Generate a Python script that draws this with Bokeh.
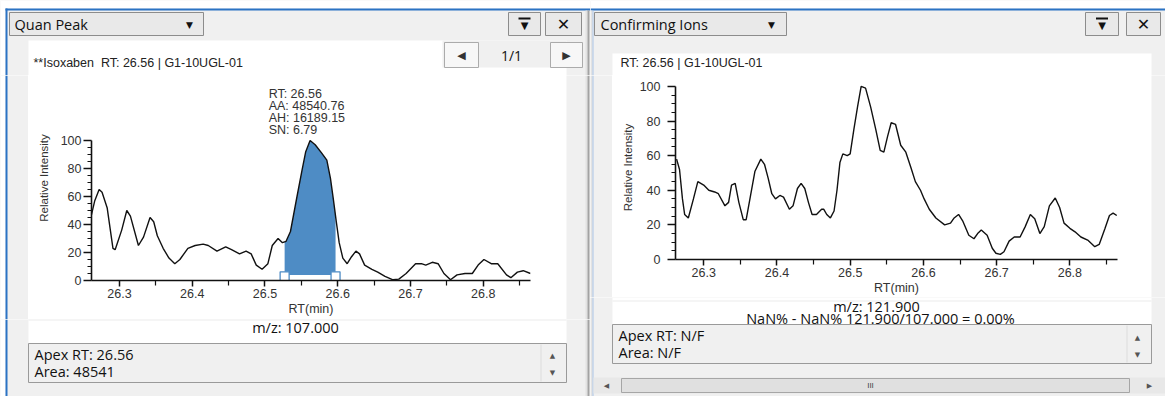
import numpy as np
from bokeh.plotting import figure
from bokeh.layouts import row, column
from bokeh.models import Range1d, FixedTicker, Label
from bokeh.core.properties import value
from bokeh.embed import file_html
from bokeh.resources import INLINE

# ---------------- data ----------------
quan_rt = [26.261, 26.266, 26.272, 26.276, 26.283, 26.291, 26.294, 26.303, 26.310, 26.315,
           26.326, 26.333, 26.342, 26.347, 26.352, 26.360, 26.368, 26.376, 26.383, 26.394,
           26.404, 26.415, 26.422, 26.434, 26.446, 26.454, 26.465, 26.474, 26.481, 26.488,
           26.496, 26.504, 26.510, 26.518, 26.524, 26.529, 26.535, 26.544, 26.551, 26.556,
           26.562, 26.569, 26.578, 26.585, 26.590, 26.594, 26.598, 26.602, 26.607, 26.613,
           26.619, 26.625, 26.630, 26.637, 26.647, 26.655, 26.665, 26.676, 26.684, 26.694,
           26.707, 26.715, 26.721, 26.730, 26.738, 26.746, 26.755, 26.764, 26.775, 26.785,
           26.793, 26.801, 26.811, 26.820, 26.832, 26.838, 26.847, 26.855, 26.865]
quan_int = [46, 57, 65, 63, 52, 23, 22, 36, 50, 46,
            25, 31, 45, 42, 32, 23, 16, 12, 15, 23,
            25, 26, 25, 21, 24, 22, 19, 21, 19, 11,
            8, 12, 25, 30, 27, 28, 35, 60, 79, 92,
            100, 97, 91, 86, 73, 58, 42, 27, 16, 12,
            17, 21, 19, 11, 8, 6, 3, 0.5, 1, 5,
            12, 12, 11, 13, 12, 5, 0.5, 4, 5, 5,
            11, 15, 12, 12, 4, 2, 6, 7, 5]

conf_rt = [26.263, 26.267, 26.271, 26.274, 26.279, 26.286, 26.292, 26.300, 26.307, 26.315,
           26.320, 26.329, 26.334, 26.338, 26.343, 26.348, 26.354, 26.358, 26.364, 26.370,
           26.378, 26.383, 26.388, 26.393, 26.398, 26.404, 26.409, 26.417, 26.422, 26.428,
           26.433, 26.438, 26.443, 26.448, 26.454, 26.461, 26.464, 26.468, 26.473, 26.478,
           26.482, 26.486, 26.490, 26.496, 26.500, 26.505, 26.510, 26.515, 26.521, 26.528,
           26.535, 26.541, 26.546, 26.551, 26.556, 26.562, 26.569, 26.576, 26.583, 26.589,
           26.596, 26.601, 26.608, 26.617, 26.629, 26.637, 26.642, 26.648, 26.654, 26.662,
           26.669, 26.674, 26.679, 26.687, 26.694, 26.699, 26.705, 26.710, 26.717, 26.724,
           26.732, 26.739, 26.746, 26.752, 26.759, 26.765, 26.772, 26.780, 26.786, 26.792,
           26.800, 26.807, 26.815, 26.825, 26.834, 26.840, 26.848, 26.854, 26.859, 26.864]
conf_int = [58, 52, 35, 26, 24, 35, 45, 43, 40, 39,
            38, 31, 33, 43, 44, 33, 23, 23, 37, 51,
            58, 55, 47, 38, 35, 37, 36, 29, 31, 41,
            44, 41, 33, 26, 26, 29, 29, 26, 24, 28,
            40, 56, 61, 60, 61, 75, 88, 100, 99, 88,
            75, 63, 62, 71, 79, 78, 66, 62, 53, 45,
            40, 35, 29, 24, 20, 21, 24, 26, 22, 14,
            12, 15, 17, 14, 6.5, 3.6, 3, 4.5, 10.6, 13,
            13, 19, 26, 23.5, 15, 19, 31, 35.5, 30, 21,
            18, 16, 13, 11, 7.4, 8.7, 18, 25.4, 26.8, 25.4]

x_ticks = [26.3, 26.4, 26.5, 26.6, 26.7, 26.8]
x_minor_ticks = [26.35, 26.45, 26.55, 26.65, 26.75, 26.85]
y_ticks = [0, 20, 40, 60, 80, 100]
y_minor_ticks = [5, 10, 15, 25, 30, 35, 45, 50, 55, 65, 70, 75, 85, 90, 95]
x_start, x_end = 26.2615, 26.865

peak_start, peak_end, peak_baseline = 26.527, 26.597, 4.0
apex_rt, peak_area, peak_height, peak_sn = "26.56", "48540.76", "16189.15", "6.79"

CHART_FONT = "Liberation Sans"
UI_FONT = "Open Sans"
SYM_FONT = "DejaVu Sans"
PANEL = "#f0f0f0"
BLUE = "#2b73c4"
FILL = "#4e8cc5"
BTN = "#e9e9e9"
BTN_LINE = "#8c8c8c"

_probe = figure()
HAS_FRAME_ALIGN = "frame_align" in _probe.properties()


def no_align(f):
    if HAS_FRAME_ALIGN:
        f.frame_align = False
    return f


# ---------- chrome helpers (pixel-coordinate panels) ----------
def chrome_fig(w, h):
    f = figure(width=w, height=h, x_range=Range1d(0, w), y_range=Range1d(h, 0),
               output_backend="svg", toolbar_location=None, title=None, min_border=0,
               x_axis_location=None, y_axis_location=None)
    f.grid.visible = False
    f.outline_line_color = None
    f.background_fill_color = PANEL
    f.border_fill_color = PANEL
    return no_align(f)


def rect(f, l, t, r, b, fill, line=None, lw=1):
    f.quad(left=[l], right=[r], top=[t], bottom=[b], fill_color=fill,
           line_color=line, line_width=lw)


def txt(f, x, y, s, size, font=UI_FONT, color="#111111", align="left", style="normal"):
    f.text(x=[x], y=[y], text=[s], text_font=value(font), text_font_size=value(f"{size}px"),
           text_color=color, text_align=align, text_baseline="middle", text_font_style=style)


def button_pair(f, x1, x2, x3, x4):
    rect(f, x1, 12, x2, 35, BTN, BTN_LINE)
    rect(f, (x1 + x2) / 2 - 6, 17, (x1 + x2) / 2 + 6, 19, "#111111")
    txt(f, (x1 + x2) / 2, 25, "▼", 10, font=SYM_FONT, align="center")
    rect(f, x3, 12, x4, 35, BTN, BTN_LINE)
    txt(f, (x3 + x4) / 2, 23.5, "✕", 16, font=SYM_FONT, align="center", style="bold")


# ---------- chart helper ----------
def chart_fig(w, h, left, right, bottom, y_end, ylab_standoff, ytick_standoff):
    p = figure(width=w, height=h, title=None,
               x_range=Range1d(x_start, x_end), y_range=Range1d(0, y_end),
               output_backend="svg", toolbar_location=None,
               min_border_left=left, min_border_right=right,
               min_border_top=0, min_border_bottom=bottom)
    p.border_fill_color = "white"
    p.background_fill_color = "white"
    p.outline_line_color = None
    p.grid.visible = False
    xa, ya = p.xaxis[0], p.yaxis[0]
    xa.ticker = FixedTicker(ticks=x_ticks, minor_ticks=x_minor_ticks)
    ya.ticker = FixedTicker(ticks=y_ticks, minor_ticks=y_minor_ticks)
    ya.bounds = (0, 100)
    xa.axis_label = "RT(min)"
    ya.axis_label = "Relative Intensity"
    for ax in (xa, ya):
        ax.axis_line_color = "#111111"
        ax.axis_line_width = 1.6
        ax.major_tick_line_color = "#111111"
        ax.major_tick_line_width = 1.5
        ax.minor_tick_line_color = "#111111"
        ax.minor_tick_line_width = 1.2
        ax.major_tick_in = 0
        ax.minor_tick_in = 0
        ax.major_label_text_font = CHART_FONT
        ax.major_label_text_font_size = "12.5px"
        ax.major_label_text_color = "#333333"
        ax.axis_label_text_font = CHART_FONT
        ax.axis_label_text_font_size = "12.5px"
        ax.axis_label_text_font_style = "normal"
        ax.axis_label_text_color = "#333333"
    xa.major_tick_out = 6
    xa.minor_tick_out = 5
    xa.major_label_standoff = 2
    xa.axis_label_standoff = 1
    ya.major_tick_out = 8
    ya.minor_tick_out = 4
    ya.major_label_standoff = ytick_standoff
    ya.axis_label_standoff = ylab_standoff
    ya.axis_label_text_font_size = "11.5px"
    return no_align(p)


# ================= LEFT PANEL (Quan Peak) =================
hL = chrome_fig(590, 75)
rect(hL, 0, 0, 590, 8, "white")
rect(hL, 0, 0, 5, 75, "white")
rect(hL, 5, 8, 590, 10, BLUE)
rect(hL, 5, 8, 7, 75, BLUE)
rect(hL, 585, 10, 587, 75, "#e2e2e2")
rect(hL, 587, 10, 589, 75, "#a3a3a3")
rect(hL, 9, 12, 203, 35, BTN, BTN_LINE)
txt(hL, 14, 23.5, "Quan Peak", 14.5)
txt(hL, 189, 24, "▼", 9, font=SYM_FONT, align="center")
button_pair(hL, 508, 540, 545, 581)
rect(hL, 28, 40, 566, 75, "white")
rect(hL, 442, 40, 566, 67, PANEL)
rect(hL, 444, 42, 478, 67, "#f7f7f7", "#ababab")
txt(hL, 461, 54.5, "◀", 11, font=SYM_FONT, color="#333333", align="center")
txt(hL, 511, 55, "1/1", 14, align="center")
rect(hL, 550, 42, 582, 67, "#f7f7f7", "#ababab")
txt(hL, 566, 54.5, "▶", 11, font=SYM_FONT, color="#333333", align="center")
txt(hL, 33, 62, "**Isoxaben\u00a0\u00a0RT: " + apex_rt + " | G1-10UGL-01", 12.5, font=CHART_FONT,
    color="#222222")

sL1 = chrome_fig(28, 244)
rect(sL1, 0, 0, 5, 244, "white")
rect(sL1, 5, 0, 7, 244, BLUE)
sL2 = chrome_fig(24, 244)
rect(sL2, 19, 0, 21, 244, "#e2e2e2")
rect(sL2, 21, 0, 23, 244, "#a3a3a3")

cL = chart_fig(538, 244, 63, 36, 39, 205 / 1.4, 8, 2)
qrt = np.array(quan_rt)
qint = np.array(quan_int)
inside = (qrt > peak_start) & (qrt < peak_end)
fx = np.concatenate([[peak_start], qrt[inside], [peak_end]])
fy = np.concatenate([[np.interp(peak_start, qrt, qint)], qint[inside], [np.interp(peak_end, qrt, qint)]])
cL.varea(x=fx, y1=peak_baseline, y2=fy, fill_color=FILL, fill_alpha=1)
cL.line(quan_rt, quan_int, line_color="#111111", line_width=1.4)
cL.scatter([peak_start, peak_end], [peak_baseline - 1, peak_baseline - 1], marker="square", size=9,
           fill_color="white", line_color=FILL, line_width=1.3)
ann_lines = ["RT: " + apex_rt, "AA: " + peak_area, "AH: " + peak_height, "SN: " + peak_sn]
ann_y = [133.0, 124.4, 115.8, 107.2]
for t, yy in zip(ann_lines, ann_y):
    cL.add_layout(Label(x=26.505, y=yy, text=t, text_font=CHART_FONT, text_font_size="12.5px",
                        text_color="#333333", text_baseline="middle", text_align="left"))

fL = chrome_fig(590, 77)
rect(fL, 0, 0, 5, 77, "white")
rect(fL, 5, 0, 7, 77, BLUE)
rect(fL, 585, 0, 587, 77, "#e2e2e2")
rect(fL, 587, 0, 589, 77, "#a3a3a3")
rect(fL, 28, 0, 566, 24, "white")
rect(fL, 28, 0, 566, 1, "#ebebeb")
rect(fL, 28, 24, 566, 63, PANEL, "#9a9a9a")
rect(fL, 540, 25, 541, 62, "#dcdcdc")
txt(fL, 295, 8, "m/z: 107.000", 14.5, align="center")
txt(fL, 34, 35, "Apex RT: " + apex_rt, 14.5)
txt(fL, 34, 52, "Area: 48541", 14.5)
txt(fL, 552, 36, "▲", 7, font=SYM_FONT, color="#555555", align="center")
txt(fL, 552, 53, "▼", 7, font=SYM_FONT, color="#555555", align="center")

left_panel = column(hL, row(sL1, cL, sL2), fL)

# ================= RIGHT PANEL (Confirming Ions) =================
hR = chrome_fig(575, 75)
rect(hR, 0, 0, 575, 8, "white")
rect(hR, 0, 8, 575, 10, BLUE)
rect(hR, 0, 10, 2, 75, "#e2e2e2")
rect(hR, 2, 10, 3, 75, "#a9c4e6")
rect(hR, 4, 12, 196, 35, BTN, BTN_LINE)
txt(hR, 10, 23.5, "Confirming Ions", 14.5)
txt(hR, 181, 24, "▼", 9, font=SYM_FONT, align="center")
button_pair(hR, 495, 528, 536, 570)
rect(hR, 22, 53, 561, 75, "white")
txt(hR, 30, 62, "RT: " + apex_rt + " | G1-10UGL-01", 12.5, font=CHART_FONT, color="#222222")

sR1 = chrome_fig(22, 222)
rect(sR1, 0, 0, 2, 222, "#e2e2e2")
rect(sR1, 2, 0, 3, 222, "#a9c4e6")
sR2 = chrome_fig(14, 222)

cR = chart_fig(539, 222, 63, 34, 36, 186 / 1.75, 3, 7)
cR.line(conf_rt, conf_int, line_color="#111111", line_width=1.4)

fR = chrome_fig(575, 99)
rect(fR, 0, 0, 2, 99, "#e2e2e2")
rect(fR, 2, 0, 3, 99, "#a9c4e6")
rect(fR, 22, 0, 561, 27, "white")
rect(fR, 22, 3, 561, 4, "#ebebeb")
rect(fR, 22, 27, 561, 66, PANEL, "#9a9a9a")
rect(fR, 536, 28, 537, 65, "#dcdcdc")
txt(fR, 286, 9, "m/z: 121.900", 14.5, align="center")
txt(fR, 290, 21, "NaN% - NaN% 121.900/107.000 = 0.00%", 14.5, align="center")
txt(fR, 28, 38, "Apex RT: N/F", 14.5)
txt(fR, 28, 55, "Area: N/F", 14.5)
txt(fR, 547, 40, "▲", 7, font=SYM_FONT, color="#555555", align="center")
txt(fR, 547, 57, "▼", 7, font=SYM_FONT, color="#555555", align="center")
rect(fR, 3, 80, 575, 96, "#e8e8e8")
rect(fR, 31, 81, 539, 95, "#e0e0e0", "#a6a6a6")
txt(fR, 280, 88, "III", 8, font=CHART_FONT, color="#444444", align="center")
txt(fR, 16, 88, "◀", 7, font=SYM_FONT, color="#555555", align="center")
txt(fR, 559, 88, "▶", 7, font=SYM_FONT, color="#555555", align="center")

right_panel = column(hR, row(sR1, cR, sR2), fR)

layout = row(left_panel, right_panel)
open("out.html", "w").write(file_html(layout, INLINE))
